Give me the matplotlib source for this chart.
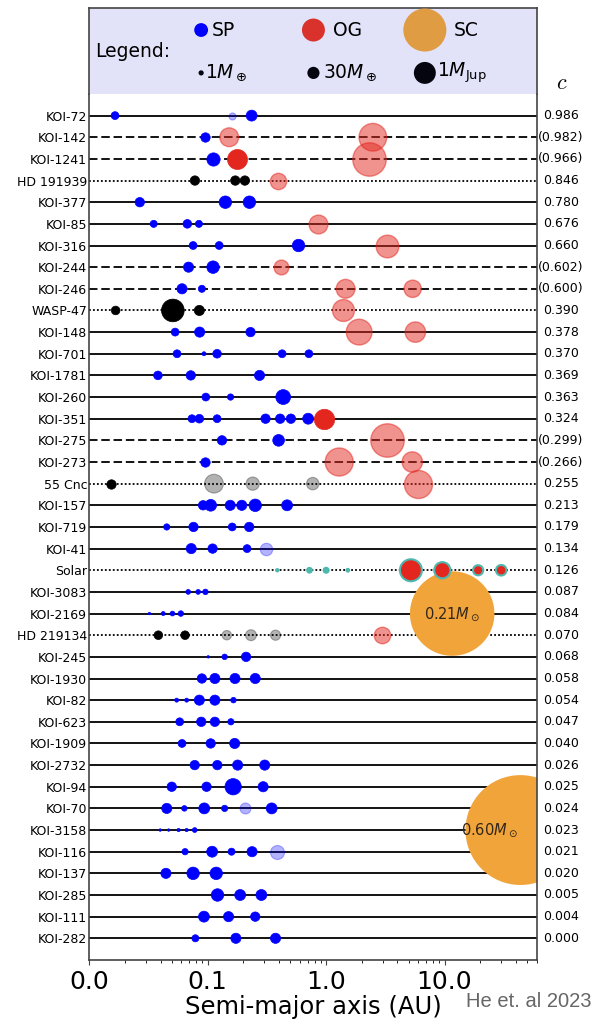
import numpy as np
import matplotlib
matplotlib.use('Agg')
import matplotlib.pyplot as plt
from matplotlib.ticker import NullFormatter, FuncFormatter
from matplotlib.transforms import blended_transform_factory

# systems from top to bottom, with gap complexity c (brackets = uncertain)
systems = ['KOI-72', 'KOI-142', 'KOI-1241', 'HD 191939', 'KOI-377', 'KOI-85',
           'KOI-316', 'KOI-244', 'KOI-246', 'WASP-47', 'KOI-148', 'KOI-701',
           'KOI-1781', 'KOI-260', 'KOI-351', 'KOI-275', 'KOI-273', '55 Cnc',
           'KOI-157', 'KOI-719', 'KOI-41', 'Solar', 'KOI-3083', 'KOI-2169',
           'HD 219134', 'KOI-245', 'KOI-1930', 'KOI-82', 'KOI-623', 'KOI-1909',
           'KOI-2732', 'KOI-94', 'KOI-70', 'KOI-3158', 'KOI-116', 'KOI-137',
           'KOI-285', 'KOI-111', 'KOI-282']
c_labels = ['0.986', '(0.982)', '(0.966)', '0.846', '0.780', '0.676', '0.660',
            '(0.602)', '(0.600)', '0.390', '0.378', '0.370', '0.369', '0.363',
            '0.324', '(0.299)', '(0.266)', '0.255', '0.213', '0.179', '0.134',
            '0.126', '0.087', '0.084', '0.070', '0.068', '0.058', '0.054',
            '0.047', '0.040', '0.026', '0.025', '0.024', '0.023', '0.021',
            '0.020', '0.005', '0.004', '0.000']

# semi-major axis (AU), mass (Earth masses), kind of each planet
planet_a = [
    [0.0165, 0.16, 0.235],
    [0.0957, 0.152, 2.48],
    [0.111, 0.177, 2.30],
    [0.078, 0.171, 0.206, 0.394],
    [0.0267, 0.141, 0.225],
    [0.035, 0.0673, 0.0843, 0.849],
    [0.0753, 0.125, 0.585, 3.24],
    [0.0689, 0.111, 0.415],
    [0.0607, 0.0893, 1.46, 5.38],
    [0.0167, 0.0508, 0.085, 1.39],
    [0.0531, 0.0855, 0.230, 1.90, 5.67],
    [0.0551, 0.093, 0.120, 0.425, 0.715],
    [0.038, 0.072, 0.274],
    [0.0964, 0.156, 0.434],
    [0.0736, 0.085, 0.12, 0.308, 0.409, 0.504, 0.705, 0.964],
    [0.132, 0.397, 3.24],
    [0.0957, 1.29, 5.34],
    [0.0153, 0.113, 0.24, 0.771, 5.93],
    [0.0914, 0.106, 0.155, 0.194, 0.252, 0.468],
    [0.0451, 0.0759, 0.161, 0.224],
    [0.0726, 0.110, 0.215, 0.310],
    [0.387, 0.723, 1.0, 1.524, 5.2, 9.58, 19.2, 30.1],
    [0.0684, 0.083, 0.0957],
    [0.0322, 0.0421, 0.0504, 0.0593],
    [0.0383, 0.0644, 0.145, 0.232, 0.374, 2.97],
    [0.101, 0.139, 0.211],
    [0.0893, 0.115, 0.170, 0.252],
    [0.0547, 0.0664, 0.085, 0.115, 0.165],
    [0.058, 0.0882, 0.115, 0.157],
    [0.0607, 0.106, 0.169],
    [0.0777, 0.1205, 0.179, 0.303],
    [0.0497, 0.0978, 0.164, 0.294],
    [0.0451, 0.0635, 0.0935, 0.139, 0.205, 0.347],
    [0.0397, 0.0468, 0.0568, 0.0664, 0.0777],
    [0.0644, 0.109, 0.159, 0.237, 0.388],
    [0.0444, 0.0753, 0.118],
    [0.121, 0.188, 0.284],
    [0.093, 0.150, 0.252],
    [0.0787, 0.173, 0.374],
]
planet_mass = [
    [5.3, 3.5, 19.7],
    [10.8, 173, 804],
    [42.4, 219, 1715],
    [10.8, 10.8, 10.8, 98],
    [10.8, 33.4, 33.4],
    [3.5, 7.7, 3.5, 173],
    [5.3, 5.3, 33.4, 363],
    [14.8, 33.4, 66],
    [14.8, 3.5, 173, 123],
    [7.7, 363, 14.8, 316],
    [5.3, 14.8, 10.8, 603, 236],
    [5.3, 0.36, 7.7, 5.3, 5.3],
    [7.7, 10.8, 14.8],
    [5.3, 2.2, 66],
    [5.3, 7.7, 5.3, 10.8, 10.8, 10.8, 19.7, 236],
    [10.8, 25.9, 1715],
    [10.8, 850, 236],
    [10.8, 173, 42.4, 33.4, 850],
    [10.8, 25.9, 14.8, 14.8, 33.4, 19.7],
    [2.2, 10.8, 5.3, 10.8],
    [14.8, 10.8, 5.3, 33.4],
    [0.055, 0.815, 1.0, 0.107, 318, 95, 14.5, 17.1],
    [0.73, 0.73, 1.32],
    [0.053, 0.36, 0.73, 1.32],
    [7.7, 7.7, 10.8, 19.7, 14.8, 102],
    [0.053, 1.32, 10.8],
    [10.8, 14.8, 14.8, 14.8],
    [0.36, 0.36, 14.8, 14.8, 1.32],
    [5.3, 10.8, 10.8, 2.2],
    [5.3, 10.8, 14.8],
    [10.8, 10.8, 14.8, 14.8],
    [10.8, 10.8, 98, 14.8],
    [14.8, 1.32, 19.7, 2.2, 19.7, 19.7],
    [0.053, 0.053, 0.156, 0.156, 0.73],
    [2.2, 19.7, 3.5, 14.8, 53],
    [14.8, 33.4, 33.4],
    [33.4, 19.7, 19.7],
    [19.7, 14.8, 10.8],
    [3.5, 14.8, 14.8],
]
planet_kind = [
    ['SP', 'SPt', 'SP'],
    ['SP', 'OGt', 'OGt'],
    ['SP', 'OG', 'OGt'],
    ['K', 'K', 'K', 'OGt'],
    ['SP'] * 3,
    ['SP', 'SP', 'SP', 'OGt'],
    ['SP', 'SP', 'SP', 'OGt'],
    ['SP', 'SP', 'OGt'],
    ['SP', 'SP', 'OGt', 'OGt'],
    ['K', 'K', 'K', 'OGt'],
    ['SP', 'SP', 'SP', 'OGt', 'OGt'],
    ['SP'] * 5,
    ['SP'] * 3,
    ['SP'] * 3,
    ['SP'] * 7 + ['OG'],
    ['SP', 'SP', 'OGt'],
    ['SP', 'OGt', 'OGt'],
    ['K', 'Kt', 'Kt', 'Kt', 'OGt'],
    ['SP'] * 6,
    ['SP'] * 4,
    ['SP', 'SP', 'SP', 'SPt'],
    ['T'] * 4 + ['G'] * 4,
    ['SP'] * 3,
    ['SP'] * 4,
    ['K', 'K', 'Kt', 'Kt', 'Kt', 'OGt'],
    ['SP'] * 3,
    ['SP'] * 4,
    ['SP'] * 5,
    ['SP'] * 4,
    ['SP'] * 3,
    ['SP'] * 4,
    ['SP'] * 4,
    ['SP', 'SP', 'SP', 'SP', 'SPt', 'SP'],
    ['SP'] * 5,
    ['SP', 'SP', 'SP', 'SP', 'SPt'],
    ['SP'] * 3,
    ['SP'] * 3,
    ['SP'] * 3,
    ['SP'] * 3,
]

# stellar companions (mass in solar masses)
companion_system = ['KOI-2169', 'KOI-3158']
companion_a = [11.6, 43.7]
companion_msun = [0.21, 0.60]

legend_kinds = ['SP', 'OG', 'SC']
legend_kind_mass = [50, 380, 4700]
legend_mass = [1, 30, 318]
legend_mass_labels = [r'1$M_\oplus$', r'30$M_\oplus$', r'1$M_{\rm Jup}$']

MEARTH_PER_MSUN = 333000.
RED = '#e3261e'
TEAL = '#4fb8ae'
ORANGE = '#f0a43a'

styles = {
    'SP': dict(c='#0000ff', alpha=1.0, edgecolors='#0000ff', linewidths=0.5),
    'SPt': dict(c='#0000ff', alpha=0.3, edgecolors='#0000ff', linewidths=0.8),
    'OG': dict(c=RED, alpha=1.0, edgecolors=RED, linewidths=0.5),
    'OGt': dict(c=RED, alpha=0.5, edgecolors=RED, linewidths=1.0),
    'K': dict(c='k', alpha=1.0, edgecolors='k', linewidths=0.5),
    'Kt': dict(c='k', alpha=0.3, edgecolors='k', linewidths=0.8),
    'T': dict(c=TEAL, alpha=1.0, edgecolors=TEAL, linewidths=1.3),
    'G': dict(c=RED, alpha=1.0, edgecolors=TEAL, linewidths=1.5),
}


def msize(m):
    # marker area grows with sqrt of mass
    return 14.0 * np.sqrt(m)


fig = plt.figure(figsize=(6, 10.28), dpi=100)
ax = fig.add_axes([0.1488, 0.0662, 0.7457, 0.8424])
lax = fig.add_axes([0.1488, 0.9086, 0.7457, 0.0836])

n = len(systems)
for i, name in enumerate(systems):
    if c_labels[i].startswith('('):
        ls = (0, (4.7, 2.1))
    elif not name.startswith('KOI'):
        ls = (0, (1, 1.2))
    else:
        ls = '-'
    ax.axhline(i, color='k', ls=ls, lw=1.3, zorder=1)

    a = np.array(planet_a[i])
    m = np.array(planet_mass[i])
    kinds = np.array(planet_kind[i])
    for kind in styles:
        sel = kinds == kind
        if sel.any():
            ax.scatter(a[sel], np.full(sel.sum(), i), s=msize(m[sel]),
                       zorder=3, **styles[kind])

# stellar companions
label_shift = [0, -22]
for j, sysname in enumerate(companion_system):
    row = systems.index(sysname)
    ax.scatter([companion_a[j]], [row], s=msize(companion_msun[j] * MEARTH_PER_MSUN),
               c=ORANGE, edgecolors='none', zorder=2)
    ax.annotate('%.2f$M_\\odot$' % companion_msun[j], (companion_a[j], row),
                xytext=(label_shift[j], 0), textcoords='offset points',
                ha='center', va='center', fontsize=10.5, color='#33261a', zorder=4)

ax.set_xscale('log')
ax.set_xlim(0.01, 60)
ax.set_ylim(n, -1)
ax.set_xticks([0.01, 0.1, 1, 10])
ax.xaxis.set_major_formatter(FuncFormatter(lambda v, p: '%.1f' % v))
ax.xaxis.set_minor_formatter(NullFormatter())
ax.tick_params(axis='x', labelsize=18, color='#444444')
ax.set_yticks(range(n))
ax.set_yticklabels(systems, fontsize=9)
ax.tick_params(axis='y', length=0, pad=1.5)
ax.set_xlabel('Semi-major axis (AU)', fontsize=17.5, labelpad=1)
ax.spines['top'].set_visible(False)
for sp in ['left', 'right', 'bottom']:
    ax.spines[sp].set_color('#444444')
    ax.spines[sp].set_linewidth(1.2)

trans = blended_transform_factory(ax.transAxes, ax.transData)
for i, lab in enumerate(c_labels):
    ax.text(1.054, i, lab, transform=trans, ha='center', va='center', fontsize=9)
fig.text(0.937, 0.919, r'$c$', math_fontfamily='cm', fontsize=16,
         ha='center', va='center')

# legend box
lax.set_facecolor('#e2e2f8')
lax.set_xlim(0, 1)
lax.set_ylim(0, 1)
lax.set_xticks([])
lax.set_yticks([])
lax.spines['bottom'].set_visible(False)
for sp in ['left', 'right', 'top']:
    lax.spines[sp].set_color('#444444')
    lax.spines[sp].set_linewidth(1.2)
lax.text(0.013, 0.49, 'Legend:', fontsize=13.5, va='center', ha='left')

kind_colors = {'SP': '#0000ff', 'OG': '#d9312b', 'SC': '#df9c42'}
col_x = [0.25, 0.501, 0.75]
text_x1 = [0.274, 0.545, 0.815]
text_x2 = [0.259, 0.522, 0.777]
for j, kind in enumerate(legend_kinds):
    lax.scatter([col_x[j]], [0.744], s=msize(legend_kind_mass[j]),
                c=kind_colors[kind], edgecolors='none', clip_on=False, zorder=3)
    lax.text(text_x1[j], 0.744, kind, fontsize=13.5, va='center', ha='left')
    lax.scatter([col_x[j]], [0.245], s=msize(legend_mass[j]),
                c='#050510', edgecolors='none', clip_on=False, zorder=3)
    lax.text(text_x2[j], 0.245, legend_mass_labels[j], fontsize=13.5,
             va='center', ha='left')

fig.text(0.777, 0.026, 'He et. al 2023', fontsize=14.5, color='#666666',
         family='Liberation Sans', va='center', ha='left')

fig.savefig('out.png', dpi=100)
